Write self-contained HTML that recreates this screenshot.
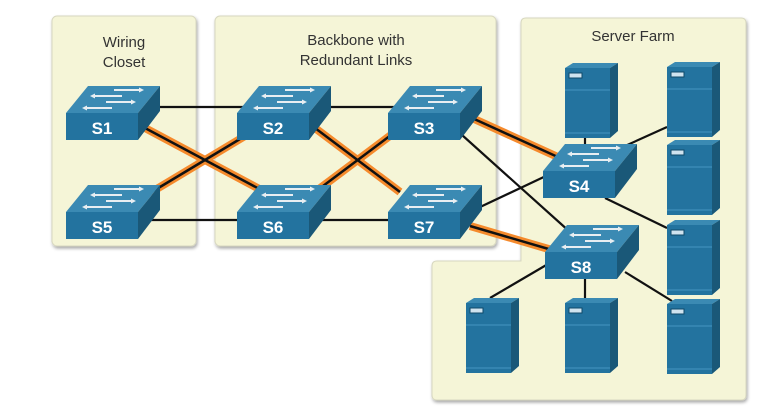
<!DOCTYPE html>
<html><head><style>body{margin:0;background:#fff}svg{display:block}</style></head><body>
<svg width="783" height="408" viewBox="0 0 783 408" xmlns="http://www.w3.org/2000/svg" font-family="Liberation Sans, sans-serif">
<defs>
<filter id="sh" x="-5%" y="-5%" width="110%" height="110%"><feDropShadow dx="1" dy="2" stdDeviation="1.5" flood-color="#000" flood-opacity="0.35"/></filter>
<g id="sw">
<polygon points="0,0 22,-27 94,-27 72,0" fill="#3b8ab3"/>
<rect x="0" y="0" width="72" height="27" fill="#23739f"/>
<polygon points="72,0 94,-27 94,-2 72,27" fill="#1a5878"/>
<g stroke="#e8eef2" stroke-width="2" fill="#e8eef2">
<line x1="48" y1="-23" x2="76" y2="-23"/><polygon points="78,-23 73,-25.5 73,-20.5" stroke="none"/>
<line x1="26" y1="-17" x2="56" y2="-17"/><polygon points="24,-17 29,-19.5 29,-14.5" stroke="none"/>
<line x1="40" y1="-11" x2="68" y2="-11"/><polygon points="70,-11 65,-13.5 65,-8.5" stroke="none"/>
<line x1="18" y1="-5" x2="46" y2="-5"/><polygon points="16,-5 21,-7.5 21,-2.5" stroke="none"/>
</g>
</g>
<g id="srv">
<polygon points="0,5 8,0 53,0 45,5" fill="#3b8ab3"/>
<rect x="0" y="5" width="45" height="70" fill="#23739f"/>
<polygon points="45,5 53,0 53,68 45,75" fill="#1a5878"/>
<line x1="0" y1="27" x2="45" y2="27" stroke="#3f8fba" stroke-width="1.2"/>
<line x1="0" y1="70" x2="45" y2="70" stroke="#3f8fba" stroke-width="1.2"/>
<rect x="4" y="10" width="13" height="5" fill="#cfe3ef" stroke="#0f4a6a" stroke-width="1"/>
</g>
</defs>
<rect x="52" y="16" width="144" height="230" rx="5" fill="#f5f5d7" stroke="#d8d8c0" filter="url(#sh)"/>
<rect x="215" y="16" width="281" height="230" rx="5" fill="#f5f5d7" stroke="#d8d8c0" filter="url(#sh)"/>
<path d="M526,18 H741 Q746,18 746,23 V395 Q746,400 741,400 H437 Q432,400 432,395 V266 Q432,261 437,261 H521 V23 Q521,18 526,18 Z" fill="#f5f5d7" stroke="#d8d8c0" filter="url(#sh)"/>
<text x="124" y="47" font-size="15" text-anchor="middle" fill="#333">Wiring</text>
<text x="124" y="67" font-size="15" text-anchor="middle" fill="#333">Closet</text>
<text x="356" y="45" font-size="15" text-anchor="middle" fill="#333">Backbone with</text>
<text x="356" y="65" font-size="15" text-anchor="middle" fill="#333">Redundant Links</text>
<text x="633" y="41" font-size="15" text-anchor="middle" fill="#333">Server Farm</text>
<g stroke="#111" stroke-width="2.2">
<line x1="155" y1="107" x2="245" y2="107"/>
<line x1="320" y1="107" x2="395" y2="107"/>
<line x1="130" y1="220" x2="245" y2="220"/>
<line x1="300" y1="220" x2="395" y2="220"/>
<line x1="462" y1="135" x2="570" y2="232"/>
<line x1="478" y1="208" x2="548" y2="175"/>
<line x1="585" y1="138" x2="585" y2="150"/>
<line x1="625" y1="146" x2="667" y2="127"/>
<line x1="605" y1="198" x2="667" y2="228"/>
<line x1="548" y1="264" x2="490" y2="298"/>
<line x1="585" y1="279" x2="585" y2="298"/>
<line x1="625" y1="272" x2="672" y2="301"/>
</g>
<g stroke="#f58a2c" stroke-width="8">
<line x1="145" y1="128" x2="265" y2="192"/>
<line x1="150" y1="193" x2="250" y2="133"/>
<line x1="315" y1="128" x2="400" y2="192"/>
<line x1="315" y1="192" x2="395" y2="132"/>
<line x1="472" y1="118" x2="560" y2="158"/>
<line x1="470" y1="226" x2="552" y2="250"/>
</g>
<g stroke="#111" stroke-width="2.5">
<line x1="145" y1="128" x2="265" y2="192"/>
<line x1="150" y1="193" x2="250" y2="133"/>
<line x1="315" y1="128" x2="400" y2="192"/>
<line x1="315" y1="192" x2="395" y2="132"/>
<line x1="472" y1="118" x2="560" y2="158"/>
<line x1="470" y1="226" x2="552" y2="250"/>
</g>
<use href="#srv" x="565" y="63"/>
<use href="#srv" x="667" y="62"/>
<use href="#srv" x="667" y="140"/>
<use href="#srv" x="667" y="220"/>
<use href="#srv" x="667" y="299"/>
<use href="#srv" x="466" y="298"/>
<use href="#srv" x="565" y="298"/>
<g font-size="17" font-weight="bold" fill="#fff" text-anchor="middle">
<use href="#sw" x="66" y="113"/><text x="102" y="134">S1</text>
<use href="#sw" x="66" y="212"/><text x="102" y="233">S5</text>
<use href="#sw" x="237" y="113"/><text x="273" y="134">S2</text>
<use href="#sw" x="237" y="212"/><text x="273" y="233">S6</text>
<use href="#sw" x="388" y="113"/><text x="424" y="134">S3</text>
<use href="#sw" x="388" y="212"/><text x="424" y="233">S7</text>
<use href="#sw" x="543" y="171"/><text x="579" y="192">S4</text>
<use href="#sw" x="545" y="252"/><text x="581" y="273">S8</text>
</g>
</svg>
</body></html>
